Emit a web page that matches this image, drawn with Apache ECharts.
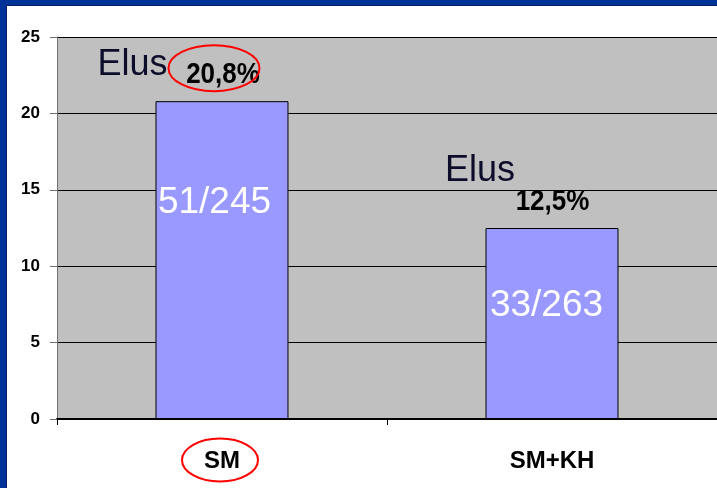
<!DOCTYPE html>
<html><head><meta charset="utf-8">
<script src="https://cdn.jsdelivr.net/npm/echarts@6/dist/echarts.min.js"></script>
<style>
html,body{margin:0;padding:0;width:717px;height:488px;overflow:hidden;background:#003399;}
#edge{position:absolute;left:6px;top:5px;width:711px;height:483px;background:#0b1f5c;}
#chart{position:absolute;left:7px;top:6px;width:710px;height:482px;background:#ffffff;}
</style></head><body><div id="edge"></div><div id="chart"></div>
<script>
// ---- data ----
const categories = ['SM', 'SM+KH'];
const values = [20.8, 12.5];
const percentLabels = ['20,8%', '12,5%'];
const fractionLabels = ['51/245', '33/263'];
const noteLabels = ['Elus', 'Elus'];
const yMin = 0, yMax = 25, yStep = 5;

// ---- layout (annotation offsets relative to bar top-centre) ----
const FONT = "Arial, 'Liberation Sans', sans-serif";
const noteOffset = [[-89.5, -36], [-72, -57]];
const fracOffset = [[-7.5, 102], [-5.5, 78]];
const pctOffset = [[1, -26], [0.5, -26]];

const chart = echarts.init(document.getElementById('chart'), null, {renderer: 'canvas'});
chart.setOption({
  animation: false,
  grid: {left: 50, top: 31, right: 0, bottom: 69, show: true, backgroundColor: '#c0c0c0', borderWidth: 0},
  xAxis: {
    type: 'category', data: categories,
    axisLine: {show: true, lineStyle: {color: '#000', width: 2}},
    axisTick: {show: true, alignWithLabel: false, length: 6, lineStyle: {color: '#000'}},
    axisLabel: {margin: 30, color: '#000', fontSize: 24, fontWeight: 'bold', fontFamily: FONT},
    splitLine: {show: false}
  },
  yAxis: {
    type: 'value', min: yMin, max: yMax, interval: yStep,
    axisLine: {show: true, lineStyle: {color: '#707070', width: 1}},
    axisTick: {show: true, length: 7, lineStyle: {color: '#707070'}},
    axisLabel: {margin: 17, color: '#000', fontSize: 17, fontWeight: 'bold', fontFamily: FONT},
    splitLine: {show: true, lineStyle: {color: '#000', width: 1}}
  },
  series: [{
    type: 'bar', data: values, barWidth: '40.3%',
    itemStyle: {color: '#9999ff', borderColor: '#000', borderWidth: 1},
    label: {show: false}
  }]
});

const g = [];
values.forEach((v, i) => {
  const p = chart.convertToPixel({gridIndex: 0}, [i, v]);
  g.push({type: 'text', x: p[0] + pctOffset[i][0], y: p[1] + pctOffset[i][1], z: 10, scaleY: 1.1,
    style: {text: percentLabels[i], fill: '#000', font: "bold 26px " + FONT, textAlign: 'center', textVerticalAlign: 'middle'}});
  g.push({type: 'text', x: p[0] + noteOffset[i][0], y: p[1] + noteOffset[i][1], z: 10,
    style: {text: noteLabels[i], fill: '#0d0d2b', font: "36px " + FONT, textAlign: 'center', textVerticalAlign: 'middle'}});
  g.push({type: 'text', x: p[0] + fracOffset[i][0], y: p[1] + fracOffset[i][1], z: 10,
    style: {text: fractionLabels[i], fill: '#ffffff', font: "37px " + FONT, textAlign: 'center', textVerticalAlign: 'middle'}});
});
// red highlight ellipses
const p0 = chart.convertToPixel({gridIndex: 0}, [0, values[0]]);
const base0 = chart.convertToPixel({gridIndex: 0}, [0, 0]);
g.push({type: 'ellipse', z: 11, shape: {cx: p0[0] - 8, cy: p0[1] - 33, rx: 45.5, ry: 23},
  style: {fill: 'none', stroke: '#ff0000', lineWidth: 2}});
g.push({type: 'ellipse', z: 11, shape: {cx: base0[0] - 2, cy: base0[1] + 41, rx: 38, ry: 21.5},
  style: {fill: 'none', stroke: '#ff0000', lineWidth: 2}});
chart.setOption({graphic: g});
</script></body></html>
